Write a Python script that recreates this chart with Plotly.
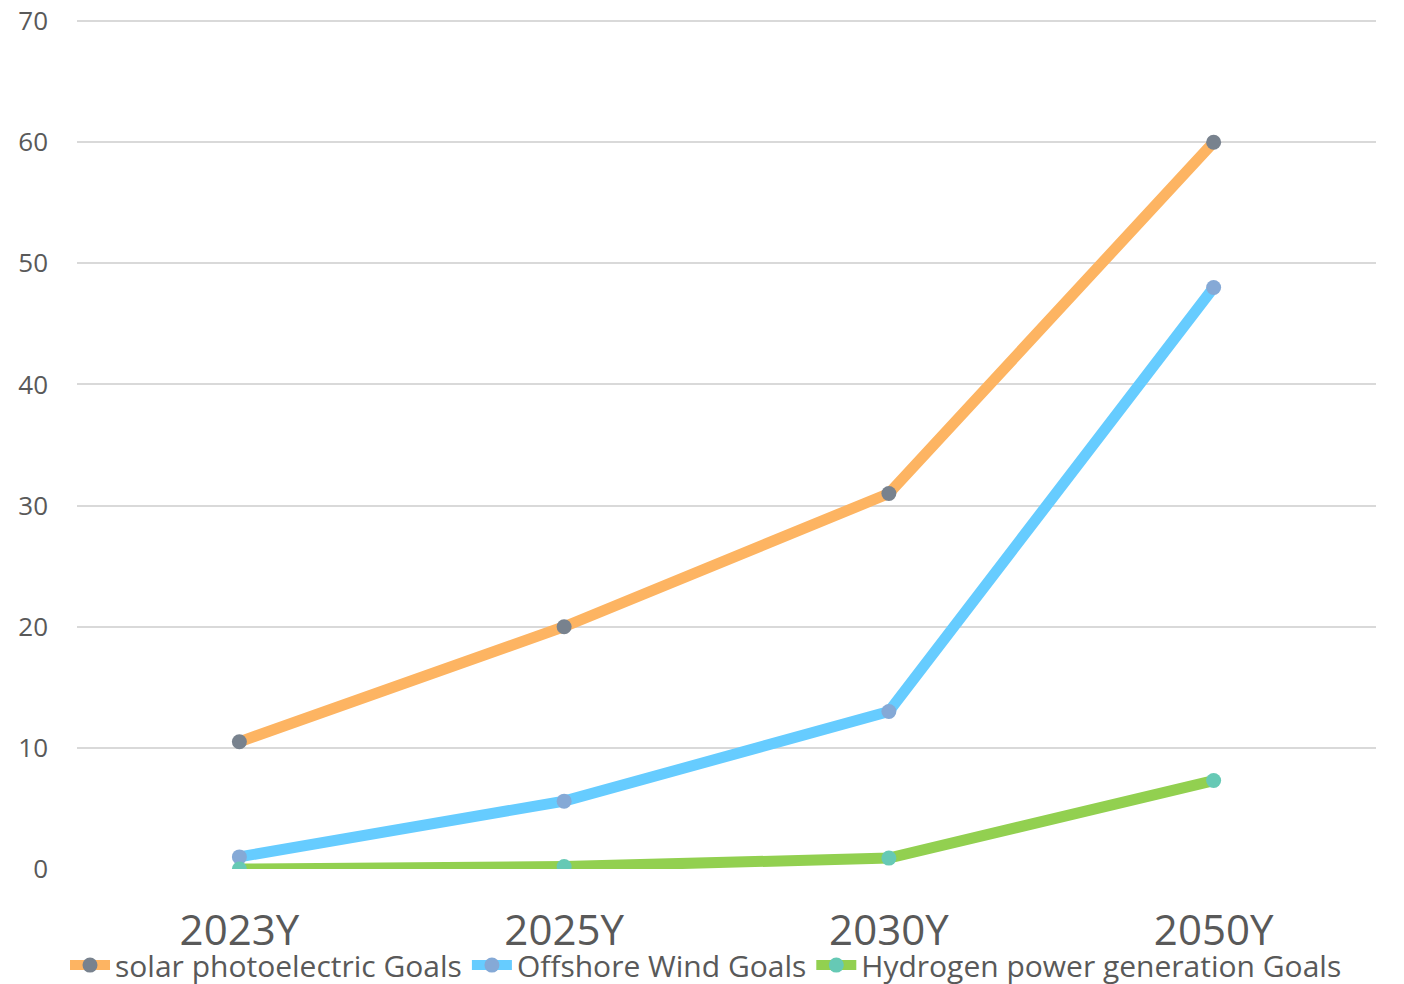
import plotly.graph_objects as go

categories = ["2023Y", "2025Y", "2030Y", "2050Y"]
solar = [10.5, 20, 31, 60]
wind = [1, 5.6, 13, 48]
hydrogen = [0, 0.2, 0.9, 7.3]
y_ticks = [0, 10, 20, 30, 40, 50, 60, 70]

series = [
    ("solar photoelectric Goals", solar, "#FDB462", "#78828E"),
    ("Offshore Wind Goals", wind, "#66CCFF", "#85A9D6"),
    ("Hydrogen power generation Goals", hydrogen, "#92D050", "#66C9B5"),
]

fig = go.Figure()
for name, vals, lc, mc in series:
    fig.add_trace(go.Scatter(
        x=categories, y=vals, name=name, mode="lines+markers",
        line=dict(color=lc, width=11),
        marker=dict(color=mc, size=15),
    ))

fig.update_layout(
    width=1396, height=976,
    paper_bgcolor="white", plot_bgcolor="white",
    margin=dict(l=69, r=28, t=7, b=115, autoexpand=False),
    font=dict(family="Open Sans", color="#595959"),
    legend=dict(orientation="h", x=0.5, xanchor="center", xref="container",
                y=-0.143, yanchor="bottom", yref="paper",
                font=dict(size=30, color="#595959"),
                itemwidth=40, tracegroupgap=0, bgcolor="rgba(0,0,0,0)"),
    showlegend=True,
)
fig.update_xaxes(
    type="category", range=[-0.5, 3.5], showgrid=False, showline=False, zeroline=False,
    tickfont=dict(size=42, color="#595959"), ticks="", automargin=False,
    ticklabelstandoff=33, ticklabeloverflow="allow",
)
fig.update_yaxes(
    range=[0, 70.5], tickvals=y_ticks, showgrid=True, gridcolor="#D9D9D9", gridwidth=2,
    zeroline=False, showline=False, tickfont=dict(size=26, color="#595959"),
    ticklabelstandoff=28, automargin=False, ticklabeloverflow="allow",
)

fig.write_html("out.html")
